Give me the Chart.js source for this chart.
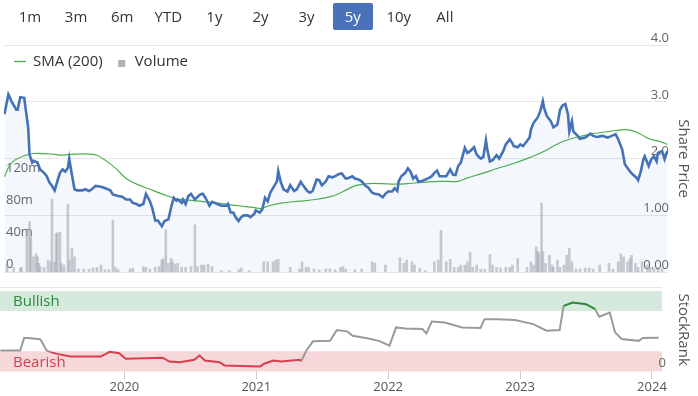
<!DOCTYPE html>
<html><head><meta charset="utf-8">
<script src="https://cdn.jsdelivr.net/npm/chart.js@4.4.1/dist/chart.umd.min.js"></script>
<style>
html,body{margin:0;padding:0;background:#fff;}
body{width:698px;height:396px;position:relative;overflow:hidden;font-family:'Open Sans',sans-serif;}
#main{position:absolute;left:0;top:0;width:698px;height:282px;}
#rank{position:absolute;left:0;top:276px;width:698px;height:120px;}
#buttons{position:absolute;left:0;top:0;width:698px;height:34px;z-index:5;}
.btn{position:absolute;top:3px;height:27px;width:40px;line-height:27px;text-align:center;font-size:15px;color:#333;border-radius:2px;}
.btn.sel{background:#4a72b9;color:#fff;}
</style></head><body>
<div id="buttons"></div>
<div id="main"><canvas id="c1"></canvas></div>
<div id="rank"><canvas id="c2"></canvas></div>
<script>
// ---------- DATA ----------
const rangeButtons = ['1m','3m','6m','YTD','1y','2y','3y','5y','10y','All'];
const selectedRange = '5y';

const xMin = 2019.057, xMax = 2024.076;
const yearTicks = [2020, 2021, 2022, 2023, 2024];

const priceTicks = [0, 1, 2, 3, 4];
const priceTickLabels = ['0.00', '1.00', '2.0', '3.0', '4.0'];
const volumeTicks = [0, 40, 80, 120];
const volumeTickLabels = ['0', '40m', '80m', '120m'];

const priceDates = [2019.06,2019.09,2019.12,2019.15,2019.16,2019.18,2019.21,2019.22,2019.24,2019.25,2019.27,2019.28,2019.31,2019.33,2019.36,2019.38,2019.40,2019.42,2019.44,2019.46,2019.48,2019.50,2019.52,2019.54,2019.55,2019.57,2019.59,2019.61,2019.65,2019.67,2019.70,2019.72,2019.75,2019.78,2019.81,2019.86,2019.88,2019.92,2019.95,2019.98,2020.01,2020.03,2020.06,2020.08,2020.11,2020.13,2020.16,2020.18,2020.20,2020.22,2020.25,2020.27,2020.30,2020.32,2020.34,2020.36,2020.37,2020.40,2020.41,2020.43,2020.45,2020.47,2020.50,2020.54,2020.56,2020.58,2020.61,2020.63,2020.66,2020.70,2020.74,2020.75,2020.77,2020.79,2020.81,2020.83,2020.85,2020.87,2020.90,2020.92,2020.95,2020.96,2020.99,2021.01,2021.03,2021.05,2021.07,2021.10,2021.12,2021.13,2021.15,2021.17,2021.20,2021.22,2021.25,2021.27,2021.30,2021.32,2021.35,2021.37,2021.39,2021.42,2021.44,2021.46,2021.49,2021.51,2021.54,2021.56,2021.59,2021.61,2021.64,2021.66,2021.69,2021.71,2021.74,2021.76,2021.79,2021.81,2021.84,2021.86,2021.89,2021.92,2021.94,2021.96,2021.99,2022.01,2022.03,2022.04,2022.06,2022.09,2022.11,2022.13,2022.15,2022.17,2022.19,2022.21,2022.24,2022.27,2022.29,2022.31,2022.33,2022.35,2022.38,2022.40,2022.43,2022.45,2022.47,2022.49,2022.51,2022.53,2022.54,2022.56,2022.58,2022.61,2022.63,2022.66,2022.68,2022.70,2022.71,2022.73,2022.75,2022.78,2022.80,2022.83,2022.85,2022.88,2022.90,2022.91,2022.94,2022.96,2022.98,2023.00,2023.03,2023.04,2023.06,2023.09,2023.11,2023.13,2023.14,2023.16,2023.19,2023.21,2023.24,2023.26,2023.28,2023.30,2023.32,2023.33,2023.35,2023.36,2023.39,2023.41,2023.45,2023.49,2023.51,2023.54,2023.58,2023.62,2023.65,2023.68,2023.70,2023.73,2023.75,2023.79,2023.81,2023.84,2023.85,2023.87,2023.89,2023.90,2023.93,2023.95,2023.97,2023.99,2024.00,2024.03,2024.04,2024.05,2024.07];
const priceValues = [2.78,3.13,2.98,2.86,2.86,3.08,3.07,2.89,2.54,2.07,1.93,1.96,1.93,1.81,1.75,1.69,1.58,1.52,1.44,1.60,1.75,1.81,1.77,1.84,2.00,1.72,1.46,1.44,1.44,1.46,1.43,1.46,1.52,1.51,1.49,1.44,1.37,1.34,1.33,1.28,1.28,1.22,1.20,1.17,1.20,1.38,1.25,1.11,0.91,0.91,0.81,0.90,0.93,1.14,1.31,1.26,1.28,1.22,1.28,1.20,1.34,1.38,1.28,1.37,1.38,1.31,1.17,1.24,1.21,1.17,1.17,1.20,1.05,1.05,0.96,0.90,0.97,1.00,1.00,0.97,1.03,1.09,1.05,1.11,1.31,1.25,1.40,1.52,1.60,1.78,1.58,1.46,1.42,1.53,1.43,1.46,1.59,1.52,1.43,1.40,1.43,1.63,1.62,1.53,1.60,1.69,1.67,1.69,1.73,1.74,1.65,1.66,1.69,1.65,1.63,1.60,1.52,1.49,1.40,1.38,1.37,1.32,1.38,1.42,1.42,1.48,1.43,1.60,1.69,1.75,1.83,1.77,1.65,1.69,1.59,1.60,1.63,1.66,1.69,1.75,1.79,1.69,1.69,1.69,1.81,1.72,1.71,1.87,1.93,2.10,2.19,2.10,2.13,2.20,2.07,2.00,2.03,2.32,2.16,1.95,1.97,2.06,2.00,2.13,2.25,2.34,2.27,2.22,2.20,2.25,2.22,2.28,2.37,2.51,2.63,2.72,2.83,3.01,2.89,2.75,2.66,2.55,2.60,2.86,2.94,2.96,2.78,2.48,2.66,2.48,2.41,2.35,2.37,2.44,2.40,2.38,2.40,2.37,2.40,2.43,2.34,2.16,1.90,1.77,1.72,1.66,1.62,1.77,1.99,2.04,1.87,1.99,2.04,1.95,2.10,2.13,2.07,1.99,2.13];

const smaDates = [2019.06,2019.09,2019.13,2019.21,2019.28,2019.43,2019.49,2019.58,2019.71,2019.76,2019.83,2019.91,2019.98,2020.06,2020.16,2020.26,2020.36,2020.41,2020.53,2020.66,2020.83,2020.94,2021.00,2021.06,2021.16,2021.29,2021.41,2021.54,2021.62,2021.71,2021.81,2021.91,2022.01,2022.11,2022.26,2022.36,2022.49,2022.56,2022.66,2022.79,2022.89,2023.01,2023.14,2023.26,2023.39,2023.51,2023.64,2023.74,2023.79,2023.87,2023.94,2024.02,2024.07];
const smaValues = [1.68,1.84,1.96,2.05,2.09,2.08,2.06,2.08,2.08,2.06,1.96,1.81,1.65,1.55,1.46,1.37,1.29,1.28,1.25,1.22,1.17,1.14,1.12,1.17,1.22,1.25,1.28,1.34,1.42,1.52,1.56,1.56,1.55,1.56,1.59,1.60,1.60,1.66,1.73,1.83,1.90,2.00,2.13,2.28,2.38,2.44,2.48,2.51,2.50,2.43,2.34,2.30,2.25];

// volume in millions
const volumeDates = [2019.08,2019.13,2019.18,2019.19,2019.23,2019.25,2019.26,2019.28,2019.30,2019.31,2019.32,2019.33,2019.36,2019.39,2019.41,2019.42,2019.44,2019.45,2019.46,2019.48,2019.49,2019.51,2019.54,2019.55,2019.57,2019.59,2019.62,2019.66,2019.70,2019.73,2019.76,2019.79,2019.82,2019.85,2019.88,2019.90,2019.92,2020.01,2020.03,2020.11,2020.13,2020.16,2020.20,2020.23,2020.25,2020.26,2020.28,2020.30,2020.32,2020.33,2020.35,2020.37,2020.40,2020.43,2020.47,2020.50,2020.52,2020.55,2020.57,2020.60,2020.63,2020.70,2020.76,2020.83,2020.85,2020.91,2021.02,2021.05,2021.09,2021.11,2021.13,2021.22,2021.29,2021.31,2021.34,2021.36,2021.40,2021.44,2021.49,2021.52,2021.56,2021.60,2021.62,2021.64,2021.71,2021.76,2021.84,2021.86,2021.94,2022.05,2022.08,2022.10,2022.14,2022.16,2022.20,2022.24,2022.31,2022.34,2022.36,2022.40,2022.43,2022.46,2022.49,2022.51,2022.54,2022.56,2022.58,2022.60,2022.63,2022.66,2022.69,2022.73,2022.75,2022.78,2022.81,2022.85,2022.88,2022.90,2022.94,2023.01,2023.04,2023.06,2023.08,2023.09,2023.10,2023.12,2023.13,2023.15,2023.18,2023.20,2023.21,2023.24,2023.26,2023.29,2023.31,2023.33,2023.35,2023.38,2023.41,2023.45,2023.48,2023.51,2023.56,2023.63,2023.66,2023.70,2023.72,2023.74,2023.77,2023.79,2023.80,2023.83,2023.85,2023.88,2023.92,2023.94,2023.97,2024.00,2024.03];
const volumeValues = [9,6,5,6,54,63,44,19,23,19,11,7,6,15,13,91,13,48,49,50,11,9,85,15,30,19,4,4,4,5,6,9,3,3,65,6,3,4,5,7,6,4,6,7,15,17,53,11,17,13,10,11,6,6,7,59,7,9,9,10,7,2,2,3,5,2,13,13,13,15,16,6,4,13,6,6,4,3,4,4,3,6,7,4,3,4,13,11,9,18,11,15,13,9,5,2,13,15,52,13,16,6,6,9,9,13,25,6,9,4,4,22,9,6,5,6,6,9,17,6,13,9,32,26,24,86,26,11,21,9,6,15,6,9,21,30,13,4,4,5,5,4,9,11,4,13,23,19,13,17,21,11,6,13,9,6,4,4,4];

const rankDates = [2019.06,2019.21,2019.24,2019.27,2019.36,2019.37,2019.41,2019.44,2019.49,2019.59,2019.82,2019.89,2019.96,2020.01,2020.29,2020.34,2020.42,2020.53,2020.57,2020.61,2020.72,2020.76,2021.03,2021.06,2021.13,2021.19,2021.33,2021.34,2021.38,2021.43,2021.56,2021.61,2021.69,2021.73,2021.83,2021.93,2022.01,2022.06,2022.13,2022.26,2022.29,2022.33,2022.43,2022.56,2022.70,2022.73,2022.83,2022.96,2023.10,2023.20,2023.30,2023.33,2023.40,2023.50,2023.57,2023.60,2023.68,2023.72,2023.77,2023.90,2023.93,2024.05];
const rankValues = [26,26,41.6,41.6,40,38,26,24,21.8,18.5,18.5,24.3,22.6,15.6,17,12.3,11.5,14.4,19.8,13.6,11.5,7.4,6.2,9.5,13.6,12.3,14.4,12.7,26,37.4,38,51.4,49.8,44.4,41.6,38,32,54.7,53.5,52.7,47.3,62,60.9,54.7,54,65,65,63.8,58.8,50.6,51.4,81.5,85.6,83.6,77.4,68,73.2,48.6,40.3,38,41.6,42];

const rankBands = [
  {name: 'Bullish', from: 75, to: 100},
  {name: 'Bearish', from: 0, to: 25}
];
const rankAxisMax = 104;

// ---------- STYLE ----------
const BLUE = '#4472b8', GREEN_SMA = '#4cae4f', VOL = 'rgba(168,170,180,0.6)';
const RANK_GRAY = '#9a9a9a', RANK_RED = '#d5404c', RANK_GREEN = '#2a8a3c';
const FONT = "'Open Sans', sans-serif";

Chart.defaults.font.family = FONT;

// range selector buttons
const bw = document.getElementById('buttons');
rangeButtons.forEach((t, i) => {
  const d = document.createElement('div');
  d.className = 'btn' + (t === selectedRange ? ' sel' : '');
  d.style.left = (10 + i * 46.1) + 'px';
  d.textContent = t;
  bw.appendChild(d);
});

const pts = (xs, ys) => xs.map((x, i) => ({x: x, y: ys[i]}));

// legend drawn inside the plot area, from the datasets that are flagged for it
const insideLegend = {
  id: 'insideLegend',
  afterDraw(chart) {
    const {ctx, chartArea: a} = chart;
    ctx.save();
    ctx.font = '15px ' + FONT;
    ctx.textBaseline = 'middle';
    let x = a.left + 10;
    const y = a.top + 16.5;
    chart.data.datasets.forEach(ds => {
      if (!ds.inLegend) return;
      if (ds.type === 'bar') {
        ctx.fillStyle = '#b0b0b6';
        ctx.fillRect(x + 2.5, y - 1.5, 7, 7);
      } else {
        ctx.strokeStyle = ds.borderColor; ctx.lineWidth = 1.3;
        ctx.beginPath(); ctx.moveTo(x, y); ctx.lineTo(x + 12, y); ctx.stroke();
      }
      ctx.fillStyle = '#333';
      ctx.fillText(ds.label, x + 19, y);
      x += 19 + ctx.measureText(ds.label).width + 13;
    });
    ctx.restore();
  }
};

new Chart(document.getElementById('c1'), {
  type: 'line',
  data: {
    datasets: [
      {label: 'Price', data: pts(priceDates, priceValues), yAxisID: 'price', borderColor: BLUE, borderWidth: 2.6,
       pointRadius: 0, fill: 'origin', backgroundColor: 'rgba(68,114,184,0.06)', tension: 0, order: 1},
      {label: 'SMA (200)', inLegend: true, data: pts(smaDates, smaValues), yAxisID: 'price', borderColor: GREEN_SMA, borderWidth: 1.2,
       pointRadius: 0, fill: false, tension: 0.3, order: 2},
      {type: 'bar', label: 'Volume', inLegend: true, data: pts(volumeDates, volumeValues), yAxisID: 'vol', backgroundColor: VOL,
       barThickness: 2, order: 3}
    ]
  },
  options: {
    responsive: true, maintainAspectRatio: false, animation: false, devicePixelRatio: 1,
    layout: {padding: {top: 45, bottom: 7, left: 0, right: 4}},
    plugins: {
      tooltip: {enabled: false},
      filler: {drawTime: 'beforeDatasetsDraw'},
      legend: {display: false}
    },
    scales: {
      x: {type: 'linear', min: xMin, max: xMax, display: false, offset: false},
      price: {
        position: 'right', min: 0, max: 4,
        afterBuildTicks: a => { a.ticks = priceTicks.map(v => ({value: v})); },
        ticks: {mirror: true, padding: 1, labelOffset: -7, color: '#666', font: {size: 13},
                callback: (v, i) => priceTickLabels[i]},
        grid: {color: '#e6e6e6', drawTicks: false},
        border: {display: false},
        title: {display: true, text: 'Share Price', color: '#555', font: {size: 15}, padding: {top: 2, bottom: 4}}
      },
      vol: {
        position: 'left', min: 0, max: 283,
        afterBuildTicks: a => { a.ticks = volumeTicks.map(v => ({value: v})); },
        ticks: {mirror: true, padding: 2, labelOffset: -8, color: '#666', font: {size: 13},
                callback: (v, i) => volumeTickLabels[i]},
        grid: {display: false, drawTicks: false},
        border: {display: false}
      }
    }
  },
  plugins: [insideLegend]
});

const bandsPlugin = {
  id: 'bands',
  beforeDraw(chart) {
    const {ctx, chartArea: a, scales: {y}} = chart;
    const fills = {Bullish: '#d5e9dc', Bearish: '#f6d7da'};
    const texts = {Bullish: RANK_GREEN, Bearish: '#d5404c'};
    ctx.save();
    rankBands.forEach(b => {
      const y1 = y.getPixelForValue(b.to), y2 = y.getPixelForValue(b.from);
      ctx.fillStyle = fills[b.name];
      ctx.fillRect(a.left, y1, a.right - a.left, y2 - y1);
      ctx.fillStyle = texts[b.name];
      ctx.font = '15px ' + FONT;
      ctx.textBaseline = 'middle';
      ctx.fillText(b.name, a.left + 13, (y1 + y2) / 2 + 1);
    });
    ctx.restore();
  }
};

const segColor = c => {
  const a = c.p0.parsed.y, b = c.p1.parsed.y;
  if (Math.max(a, b) <= 25.5) return RANK_RED;
  if (Math.min(a, b) >= 74.5) return RANK_GREEN;
  return RANK_GRAY;
};

new Chart(document.getElementById('c2'), {
  type: 'line',
  data: {datasets: [{label: 'StockRank', data: pts(rankDates, rankValues), borderColor: RANK_GRAY, borderWidth: 2,
    pointRadius: 0, tension: 0, segment: {borderColor: segColor}}]},
  options: {
    responsive: true, maintainAspectRatio: false, animation: false, devicePixelRatio: 1,
    layout: {padding: {top: 0, bottom: 1, left: 0, right: 4}},
    plugins: {legend: {display: false}, tooltip: {enabled: false}},
    scales: {
      x: {type: 'linear', min: xMin, max: xMax, offset: false,
        afterBuildTicks: a => { a.ticks = yearTicks.map(v => ({value: v})); },
        ticks: {padding: 0, color: '#555', font: {size: 13}, maxRotation: 0, autoSkip: false, callback: v => String(v)},
        grid: {drawOnChartArea: false, tickLength: 8, color: '#cccccc'},
        border: {display: false}},
      y: {position: 'right', min: 0, max: rankAxisMax,
        afterBuildTicks: a => { a.ticks = [{value: 0}, {value: rankAxisMax}]; },
        ticks: {mirror: true, padding: 4, labelOffset: -8, color: '#666', font: {size: 13}, callback: v => (v === 0 ? '0' : '')},
        grid: {color: c => (c.tick && c.tick.value === rankAxisMax ? '#e6e6e6' : 'rgba(0,0,0,0)'), drawTicks: false},
        border: {display: false},
        title: {display: true, text: 'StockRank', color: '#555', font: {size: 15}, padding: {top: 2, bottom: 4}}}
    }
  },
  plugins: [bandsPlugin]
});
</script>
</body></html>
